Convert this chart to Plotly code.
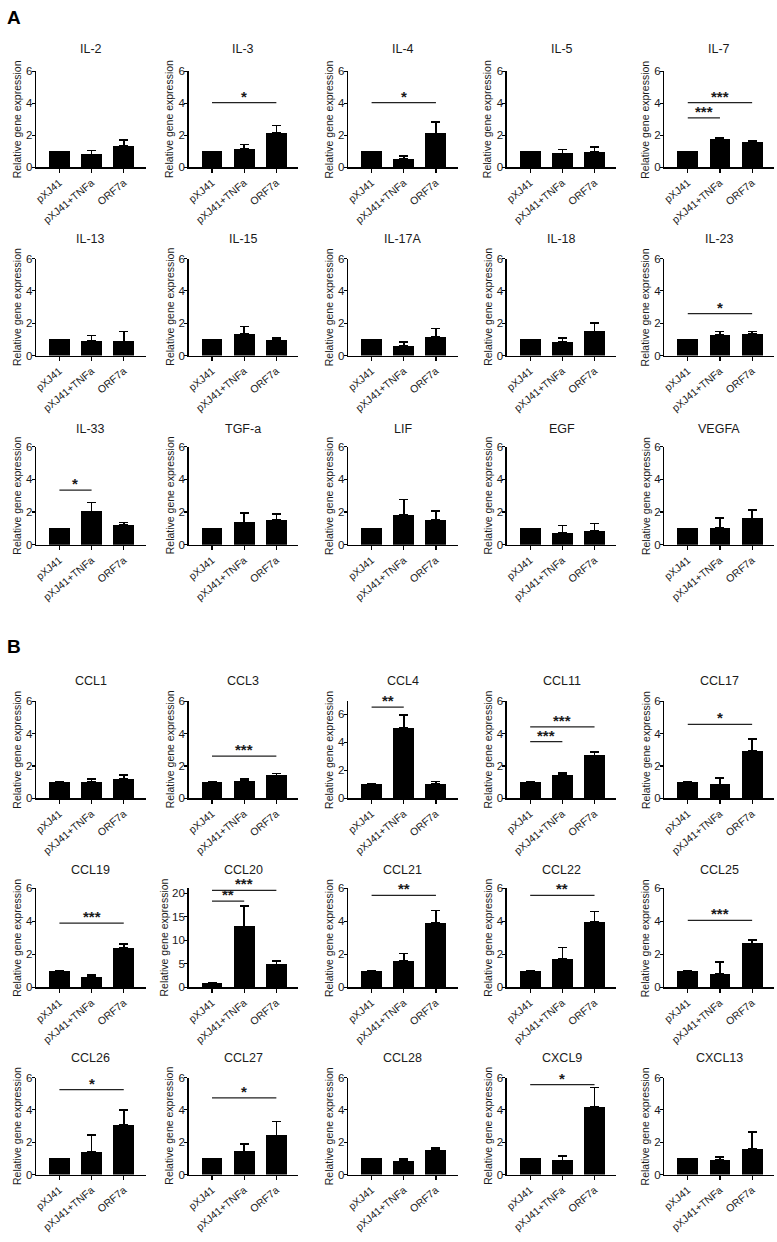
import plotly.graph_objects as go

# ---------------- data ----------------
conditions = ["pXJ41", "pXJ41+TNFa", "ORF7a"]

genes = ["IL-2", "IL-3", "IL-4", "IL-5", "IL-7",
         "IL-13", "IL-15", "IL-17A", "IL-18", "IL-23",
         "IL-33", "TGF-a", "LIF", "EGF", "VEGFA",
         "CCL1", "CCL3", "CCL4", "CCL11", "CCL17",
         "CCL19", "CCL20", "CCL21", "CCL22", "CCL25",
         "CCL26", "CCL27", "CCL28", "CXCL9", "CXCL13"]

mean_pxj41 = [1.0, 1.0, 1.0, 1.0, 1.0,
              1.0, 1.0, 1.0, 1.0, 1.0,
              1.0, 1.0, 1.0, 1.0, 1.0,
              1.0, 1.0, 1.0, 1.0, 1.0,
              1.0, 1.0, 1.0, 1.0, 1.0,
              1.0, 1.0, 1.0, 1.0, 1.0]
top_pxj41 = [1.0, 1.0, 1.0, 1.0, 1.0,
             1.0, 1.0, 1.0, 1.0, 1.0,
             1.0, 1.0, 1.0, 1.0, 1.0,
             1.0, 1.0, 1.0, 1.0, 1.0,
             1.0, 1.0, 1.0, 1.0, 1.0,
             1.0, 1.0, 1.0, 1.0, 1.0]

mean_tnfa = [0.81, 1.15, 0.52, 0.87, 1.78,
             0.93, 1.33, 0.61, 0.86, 1.26,
             2.04, 1.37, 1.82, 0.74, 1.01,
             1.00, 1.06, 5.00, 1.45, 0.86,
             0.63, 12.95, 1.60, 1.72, 0.84,
             1.41, 1.44, 0.83, 0.88, 0.90]
top_tnfa = [1.06, 1.42, 0.71, 1.13, 1.88,
            1.23, 1.80, 0.85, 1.10, 1.48,
            2.58, 1.93, 2.78, 1.17, 1.63,
            1.20, 1.20, 5.95, 1.56, 1.25,
            0.74, 17.30, 2.07, 2.43, 1.54,
            2.45, 1.90, 0.96, 1.16, 1.08]

mean_orf7a = [1.33, 2.14, 2.12, 0.96, 1.60,
              0.88, 0.96, 1.16, 1.50, 1.32,
              1.20, 1.50, 1.50, 0.87, 1.62,
              1.22, 1.42, 1.00, 2.65, 2.94,
              2.41, 4.90, 3.90, 3.96, 2.67,
              3.06, 2.42, 1.52, 4.18, 1.57]
top_orf7a = [1.70, 2.62, 2.83, 1.28, 1.67,
             1.50, 1.08, 1.67, 2.03, 1.48,
             1.36, 1.88, 2.07, 1.30, 2.14,
             1.45, 1.52, 1.20, 2.85, 3.67,
             2.62, 5.60, 4.65, 4.59, 2.88,
             3.98, 3.27, 1.65, 5.38, 2.62]

y_max = [6, 6, 6, 6, 6,
         6, 6, 6, 6, 6,
         6, 6, 6, 6, 6,
         6, 6, 6.92, 6, 6,
         6, 21, 6, 6, 6,
         6, 6, 6, 6, 6]
y_ticks_major = [2, 2, 2, 2, 2,
                 2, 2, 2, 2, 2,
                 2, 2, 2, 2, 2,
                 2, 2, 2, 2, 2,
                 2, 5, 2, 2, 2,
                 2, 2, 2, 2, 2]
y_tick_top = [6, 6, 6, 6, 6,
              6, 6, 6, 6, 6,
              6, 6, 6, 6, 6,
              6, 6, 6, 6, 6,
              6, 20, 6, 6, 6,
              6, 6, 6, 6, 6]

# significance brackets
sig_gene = ["IL-3", "IL-4", "IL-7", "IL-7", "IL-23", "IL-33",
            "CCL3", "CCL4", "CCL11", "CCL11", "CCL17",
            "CCL19", "CCL20", "CCL20", "CCL21", "CCL22", "CCL25",
            "CCL26", "CCL27", "CXCL9"]
sig_from = [0, 0, 0, 0, 0, 0,
            0, 0, 0, 0, 0,
            0, 0, 0, 0, 0, 0,
            0, 0, 0]
sig_to = [2, 2, 2, 1, 2, 1,
          2, 1, 2, 1, 2,
          2, 2, 1, 2, 2, 2,
          2, 2, 2]
sig_y = [4.05, 4.05, 4.05, 3.1, 2.6, 3.34,
         2.6, 6.5, 4.42, 3.5, 4.57,
         3.9, 20.6, 18.3, 5.58, 5.58, 4.06,
         5.25, 4.74, 5.56]
sig_label = ["*", "*", "***", "***", "*", "*",
             "***", "**", "***", "***", "*",
             "***", "***", "**", "**", "**", "***",
             "*", "*", "*"]

panel_letters = ["A", "B"]

# ---------------- layout geometry (pixels) ----------------
W, H = 777, 1242
col_left = [34, 187, 347, 506, 664]
col_w = 110
row_top = [66, 255, 445, 702, 891, 1082]
row_bot = [163, 353, 544, 800, 991, 1180]
title_y = [43, 235, 427, 682, 872, 1062]
letter_y = [12, 647]

FONT = "Arial, 'Liberation Sans', Helvetica, sans-serif"
TXT = "#1a1a1a"

fig = go.Figure()
layout = {}
annotations = []

for i, g in enumerate(genes):
    r, c = divmod(i, 5)
    n = i + 1
    xa = "x" if n == 1 else f"x{n}"
    ya = "y" if n == 1 else f"y{n}"
    x0 = col_left[c] / W
    x1 = (col_left[c] + col_w) / W
    y0 = 1 - row_bot[r] / H
    y1 = 1 - row_top[r] / H

    means = [mean_pxj41[i], mean_tnfa[i], mean_orf7a[i]]
    tops = [top_pxj41[i], top_tnfa[i], top_orf7a[i]]
    errs = [t - m for t, m in zip(tops, means)]

    fig.add_trace(go.Bar(
        x=[0, 1, 2], y=means, width=0.65,
        marker=dict(color="black", line=dict(width=0)),
        error_y=dict(type="data", symmetric=False, array=errs,
                     arrayminus=[0, 0, 0], color="black",
                     thickness=1.5, width=4.5),
        xaxis=xa, yaxis=ya, showlegend=False, hoverinfo="skip"))

    ticks = list(range(0, int(y_tick_top[i]) + 1, y_ticks_major[i]))
    layout["xaxis" if n == 1 else f"xaxis{n}"] = dict(
        domain=[x0, x1], anchor=ya, range=[-0.73, 2.68],
        tickmode="array", tickvals=[0, 1, 2], ticktext=conditions,
        tickangle=-40, ticks="outside", ticklen=4, tickwidth=1.2,
        tickcolor="black", showline=True, linecolor="black", linewidth=1.3,
        showgrid=False, zeroline=False, fixedrange=True,
        tickfont=dict(family=FONT, size=10.5, color=TXT))
    layout["yaxis" if n == 1 else f"yaxis{n}"] = dict(
        domain=[y0, y1], anchor=xa, range=[0, y_max[i]],
        tickmode="array", tickvals=ticks, ticktext=[str(t) for t in ticks],
        ticks="outside", ticklen=3, tickwidth=1.2, tickcolor="black",
        ticklabelstandoff=-3,
        showline=True, linecolor="black", linewidth=1.3,
        showgrid=False, zeroline=False, fixedrange=True,
        tickfont=dict(family=FONT, size=11.5, color=TXT))

    # panel title
    annotations.append(dict(
        text=g, xref="paper", yref="paper",
        x=(col_left[c] + col_w / 2) / W, y=1 - title_y[r] / H,
        xanchor="center", yanchor="middle", showarrow=False,
        font=dict(family=FONT, size=12.5, color=TXT)))
    # y-axis title (pushed further left when tick labels have two digits)
    title_off = 25 if y_tick_top[i] >= 10 else 19
    annotations.append(dict(
        text="Relative gene expression", xref="paper", yref="paper",
        x=(col_left[c] - title_off) / W,
        y=1 - (row_top[r] + row_bot[r]) / 2 / H,
        xanchor="center", yanchor="middle", textangle=-90, showarrow=False,
        font=dict(family=FONT, size=10.5, color=TXT)))

# significance lines + stars
for gname, a, b, yv, lab in zip(sig_gene, sig_from, sig_to, sig_y, sig_label):
    n = genes.index(gname) + 1
    xa = "x" if n == 1 else f"x{n}"
    ya = "y" if n == 1 else f"y{n}"
    fig.add_trace(go.Scatter(
        x=[a, b], y=[yv, yv], mode="lines",
        line=dict(color="#222222", width=1.2),
        xaxis=xa, yaxis=ya, showlegend=False, hoverinfo="skip",
        cliponaxis=False))
    annotations.append(dict(
        text=f"<b>{lab}</b>", xref=xa, yref=ya, x=(a + b) / 2, y=yv,
        xanchor="center", yanchor="bottom", yshift=-4, showarrow=False,
        font=dict(family=FONT, size=15, color=TXT)))

# panel letters
for lt, ly in zip(panel_letters, letter_y):
    annotations.append(dict(
        text=f"<b>{lt}</b>", xref="paper", yref="paper",
        x=3 / W, y=1 - ly / H, xanchor="left", yanchor="middle",
        showarrow=False, font=dict(family=FONT, size=19, color="black")))

fig.update_layout(
    width=W, height=H,
    margin=dict(l=0, r=0, t=0, b=0),
    paper_bgcolor="white", plot_bgcolor="white",
    bargap=0, showlegend=False,
    annotations=annotations,
    **layout)

fig.write_html("out.html",
               config={"displayModeBar": False, "staticPlot": True},
               post_script="document.body.style.margin='0';"
                           "document.body.style.overflow='hidden';")
